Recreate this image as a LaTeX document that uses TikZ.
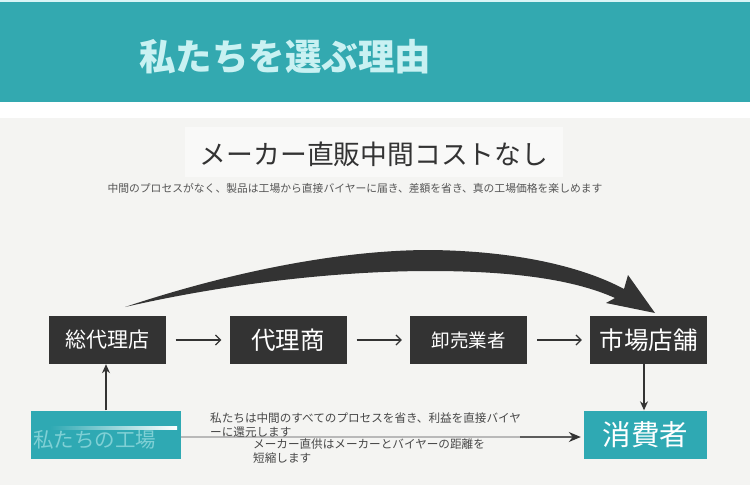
\documentclass[tikz,border=0pt]{standalone}
\usepackage{fontspec}
\newfontfamily\jp{Noto Sans CJK JP}
\usetikzlibrary{arrows.meta}
\definecolor{bannerc}{HTML}{33A9B0}
\definecolor{titlec}{HTML}{C9F1F2}
\definecolor{bgc}{HTML}{F4F4F2}
\definecolor{darkc}{HTML}{333333}
\definecolor{tealc}{HTML}{2FA9B3}
\definecolor{fadec}{HTML}{7FD0D5}
\definecolor{subc}{HTML}{555555}
\tikzset{
  darkbox/.style={fill=darkc, minimum width=117pt, minimum height=48pt, inner sep=0pt, text=white, font=\jp},
  tealbox/.style={fill=tealc, minimum height=48pt, inner sep=0pt, font=\jp},
  smallarrow/.style={darkc, line width=1.2pt, -{Straight Barb[length=5pt,width=10pt,line width=1.2pt]}},
  vertarrow/.style={darkc, line width=1.2pt, -{Stealth[length=9pt,width=8pt]}},
  desc/.style={anchor=west, inner sep=0pt, text=darkc!90, font=\jp\fontsize{11.6}{13}\selectfont}
}
\begin{document}
\begin{tikzpicture}[x=1pt,y=-1pt]
\useasboundingbox (0,0) rectangle (750,485);
% backgrounds
\fill[bgc] (0,0) rectangle (750,485);
\fill[white] (0,100) rectangle (750,118);
\fill[bannerc] (0,0) rectangle (750,102);
\fill[titlec!70] (0,0) rectangle (750,1.5);
\node[anchor=west, inner sep=0pt, text=titlec, font=\jp\bfseries\fontsize{36.5}{40}\selectfont] (title) at (139,57) {私たちを選ぶ理由};
% heading
\fill[white!45!bgc] (185,127) rectangle (563,177);
\node[inner sep=0pt, text=darkc, font=\jp\fontsize{26.8}{30}\selectfont] (head) at (374,154) {メーカー直販中間コストなし};
\node[inner sep=0pt, text=subc, font=\jp\fontsize{10.8}{12}\selectfont] (sub) at (355,188) {中間のプロセスがなく、製品は工場から直接バイヤーに届き、差額を省き、真の工場価格を楽しめます};
% big curved arrow
\fill[darkc] (125,307) .. controls (230,272) and (340,250) .. (430,250)
  .. controls (520,251) and (585,268) .. (624,289)
  -- (628,275) -- (655,313) -- (606,303) -- (615,298)
  .. controls (575,280) and (515,271) .. (430,271)
  .. controls (340,271) and (230,283) .. (125,307) -- cycle;
% dark boxes
\node[darkbox, font=\jp\fontsize{21}{23}\selectfont] (a) at (107,340) {総代理店};
\node[darkbox, font=\jp\fontsize{24.5}{26}\selectfont] (b) at (288,340) {代理商};
\node[darkbox, font=\jp\fontsize{18.5}{20}\selectfont] (c) at (468.5,340) {卸売業者};
\node[darkbox, font=\jp\fontsize{24.5}{26}\selectfont] (d) at (648.5,340) {市場店舗};
\draw[smallarrow] ([xshift=10pt]a.east) -- ([xshift=-8pt]b.west);
\draw[smallarrow] ([xshift=10pt]b.east) -- ([xshift=-8pt]c.west);
\draw[smallarrow] ([xshift=10pt]c.east) -- ([xshift=-8pt]d.west);
% teal boxes
\node[tealbox, minimum width=150pt] (f) at (105.5,434.5) {};
\node[anchor=west, inner sep=0pt, text=fadec, font=\jp\fontsize{20.5}{22}\selectfont] (ft) at (33,440) {私たちの工場};
\shade[left color=tealc, right color=white] (50,426) rectangle (177,429);
\node[tealbox, minimum width=123pt, text=white, font=\jp\fontsize{28.5}{30}\selectfont] (e) at (645.5,434.5) {消費者};
% connectors
\draw[vertarrow] (f.north -| 106,0) -- (a.south -| 106,0);
\draw[vertarrow] (d.south -| 644,0) -- (e.north -| 644,0);
\draw[gray!55, line width=1.3pt] (f.east |- 0,437) -- (520,437);
\draw[darkc!80, line width=1.3pt, -{Stealth[length=12pt,width=10pt,color=darkc]}] (520,437) -- ([xshift=-3pt]e.west |- 0,437);
% description texts
\node[desc] (t1) at (210,418) {私たちは中間のすべてのプロセスを省き、利益を直接バイヤ};
\node[desc] (t2) at (210,432) {ーに還元します};
\node[desc] (t3) at (253,444) {メーカー直供はメーカーとバイヤーの距離を};
\node[desc] (t4) at (253,458.5) {短縮します};
\end{tikzpicture}
\end{document}
